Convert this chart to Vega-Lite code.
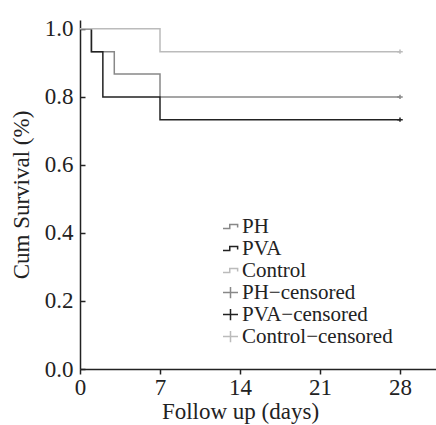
{
  "$schema": "https://vega.github.io/schema/vega-lite/v6.json",
  "width": 356,
  "height": 349,
  "autosize": {"type": "none"},
  "padding": {"left": 80, "top": 20, "right": 0, "bottom": 56},
  "background": "white",
  "config": {
    "view": {"stroke": null},
    "font": "Liberation Serif",
    "axis": {
      "grid": false,
      "domainColor": "#222",
      "domainWidth": 1.5,
      "tickColor": "#222",
      "tickWidth": 1.5,
      "labelFont": "Liberation Serif",
      "labelFontSize": 23,
      "labelColor": "#222",
      "titleFont": "Liberation Serif",
      "titleFontSize": 23,
      "titleFontWeight": "normal",
      "titleColor": "#222"
    }
  },
  "datasets": {
    "curves": [
      {"group": "PH", "day": 0, "surv": 1.0},
      {"group": "PH", "day": 1, "surv": 0.933},
      {"group": "PH", "day": 3, "surv": 0.867},
      {"group": "PH", "day": 7, "surv": 0.8},
      {"group": "PH", "day": 28, "surv": 0.8},
      {"group": "PVA", "day": 0, "surv": 1.0},
      {"group": "PVA", "day": 1, "surv": 0.933},
      {"group": "PVA", "day": 2, "surv": 0.8},
      {"group": "PVA", "day": 7, "surv": 0.733},
      {"group": "PVA", "day": 28, "surv": 0.733},
      {"group": "Control", "day": 0, "surv": 1.0},
      {"group": "Control", "day": 7, "surv": 0.933},
      {"group": "Control", "day": 28, "surv": 0.933}
    ],
    "censored": [
      {"series": "PH−censored", "day": 28, "surv": 0.8},
      {"series": "PVA−censored", "day": 28, "surv": 0.733},
      {"series": "Control−censored", "day": 28, "surv": 0.933}
    ]
  },
  "encoding": {
    "x": {
      "field": "day", "type": "quantitative",
      "scale": {"domain": [0, 31.15], "nice": false, "zero": false},
      "axis": {"values": [0, 7, 14, 21, 28], "title": "Follow up (days)", "tickSize": 5, "labelPadding": 2, "titlePadding": 1, "titleX": 160, "titleAlign": "center", "titleAnchor": "middle", "labelFlush": false}
    },
    "y": {
      "field": "surv", "type": "quantitative",
      "scale": {"domain": [0, 1.026], "nice": false},
      "axis": {"values": [0, 0.2, 0.4, 0.6, 0.8, 1.0], "format": ".1f", "title": "Cum Survival (%)", "tickSize": -5, "labelPadding": 12, "titlePadding": 11}
    }
  },
  "layer": [
    {
      "data": {"name": "curves"},
      "mark": {"type": "line", "interpolate": "step-after", "strokeWidth": 1.5},
      "encoding": {
        "stroke": {
          "field": "group", "type": "nominal",
          "scale": {"domain": ["PH", "PVA", "Control"], "range": ["#888888", "#222222", "#bbbbbb"]},
          "legend": null
        }
      }
    },
    {
      "data": {"name": "censored"},
      "mark": {"type": "point", "filled": false, "size": 30, "strokeWidth": 1.5, "opacity": 1},
      "encoding": {
        "color": {
          "field": "series", "type": "nominal",
          "scale": {
            "domain": ["PH", "PVA", "Control", "PH−censored", "PVA−censored", "Control−censored"],
            "range": ["#888888", "#222222", "#bbbbbb", "#888888", "#222222", "#bbbbbb"]
          },
          "legend": {
            "title": null,
            "orient": "none",
            "legendX": 140,
            "legendY": 196,
            "padding": 0,
            "labelFont": "Liberation Serif",
            "labelFontSize": 21,
            "labelColor": "#222",
            "labelOffset": 1,
            "labelLimit": 0,
            "rowPadding": 0,
            "symbolSize": 225,
            "symbolStrokeWidth": 1.5,
            "symbolFillColor": "transparent",
            "encode": {"symbols": {"update": {"size": {"value": 225}, "strokeWidth": {"value": 1.5}}}}
          }
        },
        "shape": {
          "field": "series", "type": "nominal",
          "scale": {
            "domain": ["PH", "PVA", "Control", "PH−censored", "PVA−censored", "Control−censored"],
            "range": [
              "M-1,0.27H-0.1V-0.27H0.95V0.13",
              "M-1,0.27H-0.1V-0.27H0.95V0.13",
              "M-1,0.27H-0.1V-0.27H0.95V0.13",
              "M-1,0H1M0,-0.75V0.75",
              "M-1,0H1M0,-0.75V0.75",
              "M-1,0H1M0,-0.75V0.75"
            ]
          },
          "legend": {
            "title": null,
            "orient": "none",
            "legendX": 140,
            "legendY": 196,
            "padding": 0,
            "labelFont": "Liberation Serif",
            "labelFontSize": 21,
            "labelColor": "#222",
            "labelOffset": 1,
            "labelLimit": 0,
            "rowPadding": 0,
            "symbolSize": 225,
            "symbolStrokeWidth": 1.5,
            "symbolFillColor": "transparent",
            "encode": {"symbols": {"update": {"size": {"value": 225}, "strokeWidth": {"value": 1.5}}}}
          }
        }
      }
    }
  ]
}
